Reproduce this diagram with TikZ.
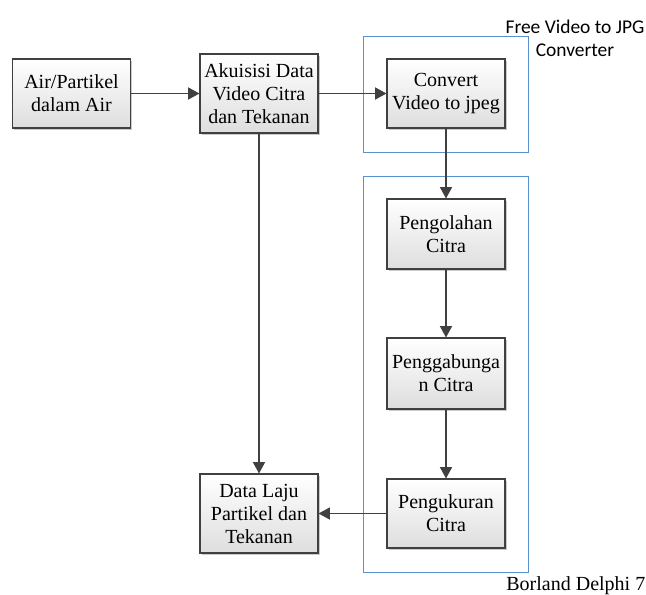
\documentclass[tikz,border=0pt]{standalone}
\usepackage{fontspec}
\setmainfont{Liberation Serif}
\newfontfamily\calfont{Carlito}
\usetikzlibrary{arrows.meta,shadows}
\begin{document}
\begin{tikzpicture}[x=0.75pt,y=-0.75pt,
  procbox/.style={draw=black!75, line width=0.8pt, top color=white, bottom color=black!13,
    minimum width=118*0.75pt, minimum height=69*0.75pt, align=center, inner sep=1pt,
    font=\fontsize{15}{17.25}\selectfont,
    drop shadow={shadow xshift=1.3pt, shadow yshift=-1.3pt, fill=black!35, opacity=0.6}},
  group/.style={draw={rgb,255:red,91;green,145;blue,205}, line width=0.6pt},
  conn/.style={draw=black!75, line width=1.2pt, -{Triangle[length=8.5pt,width=9pt]}}
]
\useasboundingbox (0,0) rectangle (646,594);
% group frames
\draw[group] (363,36) rectangle (528,152);
\draw[group] (363,176) rectangle (528,572);
% boxes
\node[procbox] (air) at (71.5,93.5) {Air/Partikel\\dalam Air};
\node[procbox, minimum height=79*0.75pt] (akui) at (259,93.5) {Akuisisi Data\\Video Citra\\dan Tekanan};
\node[procbox] (conv) at (446,93.5) {Convert\\Video to jpeg};
\node[procbox, minimum height=70*0.75pt] (olah) at (446,234) {Pengolahan\\Citra};
\node[procbox, minimum height=71*0.75pt] (gabung) at (446,373.5) {Penggabunga\\n Citra};
\node[procbox] (ukur) at (446,513.5) {Pengukuran\\Citra};
\node[procbox, minimum height=79*0.75pt] (laju) at (259,513.5) {Data Laju\\Partikel dan\\Tekanan};
% labels
\node[align=center, inner sep=0pt, font=\calfont\fontsize{14.6}{17.25}\selectfont] (lblfree) at (575,38) {Free Video to JPG\\Converter};
\node[anchor=base east, inner sep=0pt, font=\fontsize{15}{17.25}\selectfont] (lblbor) at (645.5,590) {Borland Delphi 7};
% connectors
\draw[conn] (air) -- (akui);
\draw[conn] (akui) -- (conv);
\draw[conn] (conv) -- (olah);
\draw[conn] (olah) -- (gabung);
\draw[conn] (gabung) -- (ukur);
\draw[conn] (akui) -- (laju);
\draw[conn] (ukur) -- (laju);
\end{tikzpicture}
\end{document}
